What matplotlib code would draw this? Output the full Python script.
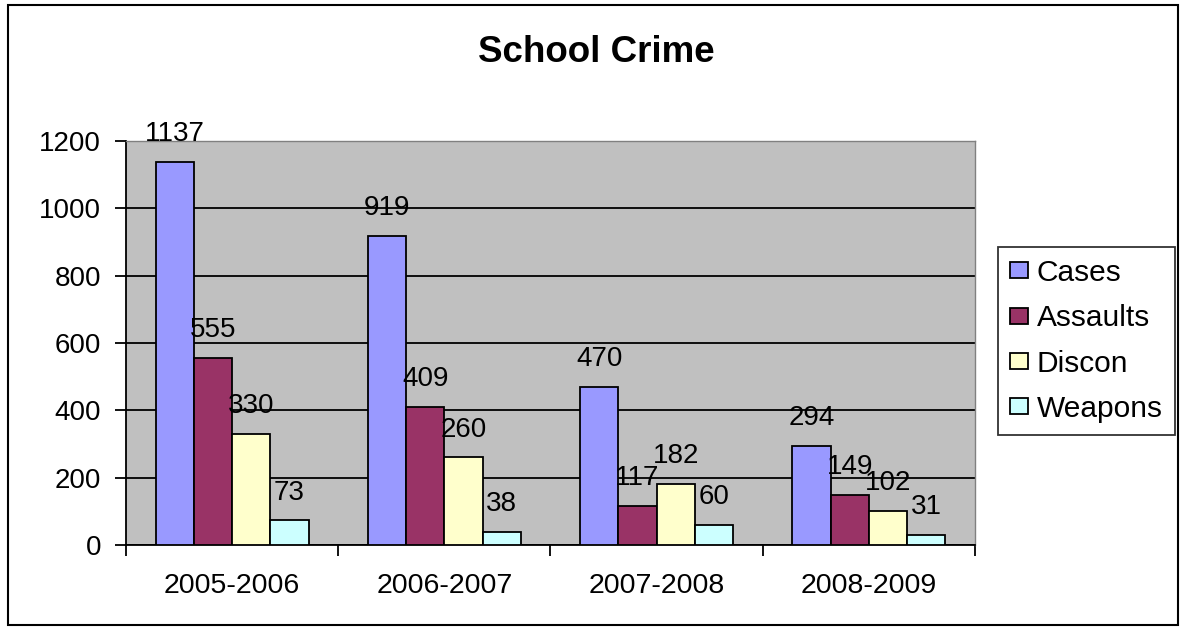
import numpy as np
import matplotlib
matplotlib.use("Agg")
import matplotlib.pyplot as plt
from matplotlib.patches import Rectangle

plt.rcParams['font.family'] = ['Liberation Sans', 'DejaVu Sans']

years = ['2005-2006', '2006-2007', '2007-2008', '2008-2009']
cases = [1137, 919, 470, 294]
assaults = [555, 409, 117, 149]
discon = [330, 260, 182, 102]
weapons = [73, 38, 60, 31]

series = [('Cases', cases, '#9999FF'),
          ('Assaults', assaults, '#993366'),
          ('Discon', discon, '#FFFFCC'),
          ('Weapons', weapons, '#CCFFFF')]

fig = plt.figure(figsize=(11.85, 6.32), dpi=100)
ax = fig.add_axes([0.1063, 0.1377, 0.7165, 0.6392])
ax.set_facecolor('#C0C0C0')

x = np.arange(len(years))
w = 0.18
for i, (name, vals, col) in enumerate(series):
    pos = x + (i - 1.5) * w
    ax.bar(pos, vals, w, color=col, edgecolor='black', linewidth=1.3, label=name, zorder=3)
    for p, v in zip(pos, vals):
        ax.annotate(str(v), (p, v), xytext=(0, 15), textcoords='offset points',
                    ha='center', va='baseline', fontsize=20, zorder=4,
                    annotation_clip=False)

ax.set_xlim(-0.5, 3.5)
ax.set_ylim(0, 1200)
ax.set_yticks(range(0, 1201, 200))
ax.yaxis.grid(True, color='black', linewidth=1.3, zorder=1)
ax.set_axisbelow(True)
ax.set_xticks([-0.5, 0.5, 1.5, 2.5, 3.5])
ax.set_xticklabels([])
ax.set_xticks(x, minor=True)
ax.set_xticklabels(years, minor=True, fontsize=20.5)
ax.tick_params(axis='x', which='minor', length=0, pad=20)
ax.tick_params(axis='x', which='major', length=8, width=1.3, direction='out')
ax.tick_params(axis='y', labelsize=20, length=8, width=1.3, direction='out', pad=10)
for s in ['top', 'right']:
    ax.spines[s].set_color('#808080')
    ax.spines[s].set_linewidth(1)
for s in ['left', 'bottom']:
    ax.spines[s].set_linewidth(1.3)

fig.text(0.503, 0.917, 'School Crime', ha='center', va='center', fontsize=26.5, fontweight='bold')

leg = fig.legend(loc='upper left', bbox_to_anchor=(0.842, 0.609), fontsize=21.5,
                 frameon=True, fancybox=False, edgecolor='black', handlelength=0.6,
                 handleheight=0.45, handletextpad=0.3, labelspacing=0.58, borderpad=0.4,
                 borderaxespad=0)
leg.get_frame().set_linewidth(1.3)

fig.patches.append(Rectangle((0.007, 0.011), 0.987, 0.981, transform=fig.transFigure,
                             fill=False, edgecolor='black', linewidth=1.5))

fig.savefig('out.png', dpi=100)
